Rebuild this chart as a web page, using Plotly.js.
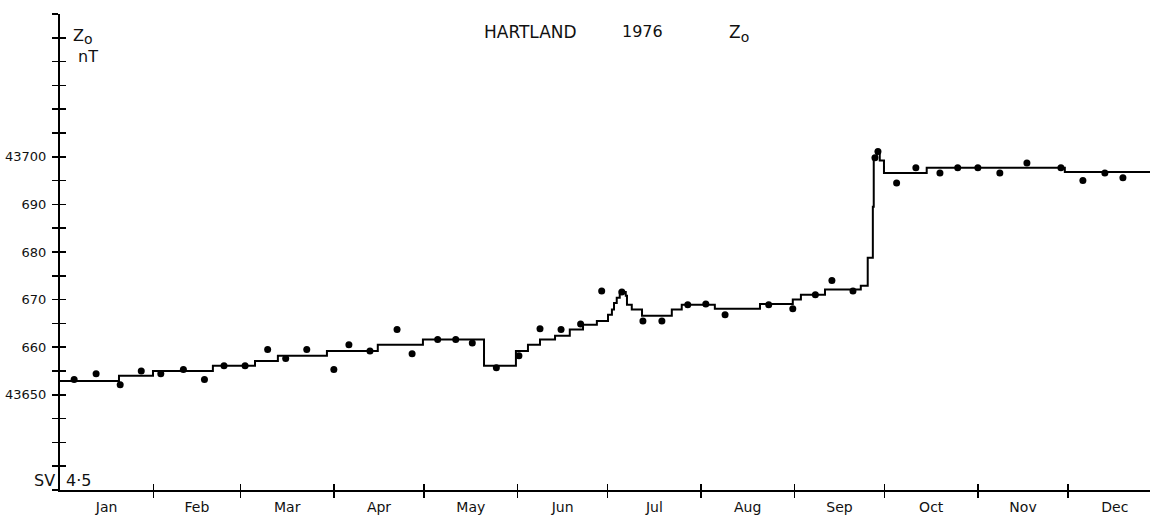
<!DOCTYPE html>
<html>
<head>
<meta charset="utf-8">
<script src="https://cdn.plot.ly/plotly-3.0.1.min.js"></script>
<style>html,body{margin:0;padding:0;background:#fff;}#chart{width:1150px;height:521px;}</style>
</head>
<body>
<div id="chart"></div>
<script>
// Dot series: day of year (1976) and Z value (nT)
var dotDays = [4.7,12,20,27,33.5,41,48,54.5,61.5,69,75,82,91,96,103,112,117,125.5,131.5,137,145,152.5,159.5,166.5,173,180,186.7,193.7,200,208.6,214.6,221,235.5,243.5,251,256.5,263.5,270.8,271.8,278,284.4,292.4,298.3,305,312.3,321.3,332.6,339.9,347.2,353.2];
var dotVals = [43653.2,43654.4,43652.1,43655.0,43654.4,43655.3,43653.2,43656.1,43656.1,43659.5,43657.6,43659.5,43655.3,43660.5,43659.2,43663.7,43658.6,43661.6,43661.6,43660.9,43655.7,43658.2,43663.9,43663.7,43664.9,43671.8,43671.6,43665.5,43665.5,43668.9,43669.1,43666.8,43668.9,43668.1,43671.0,43674.0,43671.8,43699.8,43701.1,43694.5,43697.7,43696.6,43697.7,43697.7,43696.6,43698.7,43697.7,43695.0,43696.6,43695.6];

// Step series: start day of each level and its value
var stepDays = [0,19.6,30.9,50.8,64.8,72.4,88.7,105.6,120.6,140.9,151.5,155.5,159.5,164.5,169.4,173.8,178.4,182.1,183.4,184.1,185.0,186.0,188.0,188.4,190.0,193.4,203.3,206.6,217.6,232.6,243.5,246.2,254.2,266.1,268.4,270.1,270.4,271.4,272.4,273.8,288.0,333.9,362.2];
var stepVals = [43652.9,43654.0,43655.0,43656.1,43657.1,43658.2,43659.2,43660.5,43661.6,43656.1,43659.2,43660.5,43661.6,43662.4,43663.7,43664.7,43665.5,43666.8,43667.9,43669.3,43670.4,43671.6,43670.8,43668.9,43667.9,43666.6,43667.9,43668.9,43668.1,43669.1,43670.0,43671.0,43672.1,43672.9,43678.8,43689.5,43700.0,43701.1,43699.2,43696.6,43697.7,43696.8,43696.8];

// Axis ticks and labels
var monthNames = ['Jan','Feb','Mar','Apr','May','Jun','Jul','Aug','Sep','Oct','Nov','Dec'];
var monthStarts = [0,31,60,91,121,152,182,213,244,274,305,335,366];
var yTickVals = [43630,43635,43640,43645,43650,43655,43660,43665,43670,43675,43680,43685,43690,43695,43700,43705,43710,43715,43720,43725,43730];
var yTickText = ['','','','','43650','','660','','670','','680','','690','','43700','','','','','',''];

var monthBounds = monthStarts.slice(1, 12);
var monthMids = monthNames.map(function(m, i){ return (monthStarts[i] + monthStarts[i+1]) / 2; });

var FONT = 'DejaVu Sans, sans-serif';
var xRange = [0, 362.2];
var yRange = [43630, 43730];

var traces = [
  {x: stepDays, y: stepVals, type: 'scatter', mode: 'lines', line: {shape: 'hv', color: '#000', width: 2}, hoverinfo: 'skip'},
  {x: dotDays, y: dotVals, type: 'scatter', mode: 'markers', marker: {color: '#000', size: 7}, hoverinfo: 'skip'},
  // carriers so the overlay axes (crossing ticks, month labels) are drawn
  {x: [null], y: [null], type: 'scatter', mode: 'lines', xaxis: 'x2', yaxis: 'y2', hoverinfo: 'skip'},
  {x: [null], y: [null], type: 'scatter', mode: 'lines', xaxis: 'x3', yaxis: 'y', hoverinfo: 'skip'}
];

var axBase = {range: xRange, showgrid: false, zeroline: false, fixedrange: true};
var layout = {
  width: 1150, height: 521,
  margin: {l: 60, r: 0, t: 14, b: 31},
  paper_bgcolor: '#fff', plot_bgcolor: 'rgba(0,0,0,0)',
  showlegend: false,
  font: {family: FONT, color: '#111', size: 13},
  title: {text: ''},
  xaxis: Object.assign({}, axBase, {
    tickmode: 'array', tickvals: monthBounds, ticktext: monthBounds.map(function(){return '';}),
    ticks: 'outside', ticklen: 6, tickwidth: 1.5, tickcolor: '#000',
    showline: true, linecolor: '#000', linewidth: 2, showticklabels: false
  }),
  xaxis2: Object.assign({}, axBase, {
    overlaying: 'x', anchor: 'y2',
    tickmode: 'array', tickvals: monthBounds, ticktext: monthBounds.map(function(){return '';}),
    ticks: 'inside', ticklen: 6, tickwidth: 1.5, tickcolor: '#000',
    showline: false, showticklabels: false
  }),
  xaxis3: Object.assign({}, axBase, {
    overlaying: 'x', anchor: 'y',
    tickmode: 'array', tickvals: monthMids, ticktext: monthNames,
    ticks: '', showline: false, showticklabels: true,
    ticklabelstandoff: 7,
    tickfont: {family: FONT, size: 14, color: '#111'}
  }),
  yaxis: {
    range: yRange, showgrid: false, zeroline: false, fixedrange: true,
    tickmode: 'array', tickvals: yTickVals, ticktext: yTickText,
    ticks: 'outside', ticklen: 6, tickwidth: 1.5, tickcolor: '#000',
    showline: true, linecolor: '#000', linewidth: 2,
    ticklabelstandoff: 3,
    tickfont: {family: FONT, size: 13, color: '#111'}
  },
  yaxis2: {
    overlaying: 'y', anchor: 'x2', side: 'left',
    range: yRange, showgrid: false, zeroline: false, fixedrange: true,
    tickmode: 'array', tickvals: yTickVals, ticktext: yTickVals.map(function(){return '';}),
    ticks: 'inside', ticklen: 6, tickwidth: 1.5, tickcolor: '#000',
    showline: false, showticklabels: false
  },
  annotations: [
    {text: 'HARTLAND', xref: 'paper', yref: 'paper', x: (530-60)/1090, y: 1 + (14-32)/476, xanchor: 'center', yanchor: 'middle', showarrow: false, font: {family: FONT, size: 17, color: '#111'}},
    {text: '1976', xref: 'paper', yref: 'paper', x: (642-60)/1090, y: 1 + (14-32)/476, xanchor: 'center', yanchor: 'middle', showarrow: false, font: {family: FONT, size: 16, color: '#111'}},
    {text: 'Z<sub><span style="font-size:14px">o</span></sub>', xref: 'paper', yref: 'paper', x: (739-60)/1090, y: 1 + (14-34)/476, xanchor: 'center', yanchor: 'middle', showarrow: false, font: {family: FONT, size: 17, color: '#111'}},
    {text: 'Z<sub><span style="font-size:14px">o</span></sub><br> nT', xref: 'paper', yref: 'paper', x: (71-60)/1090, y: 1 + (14-24)/476, xanchor: 'left', yanchor: 'top', align: 'left', showarrow: false, font: {family: FONT, size: 16, color: '#111'}},
    {text: 'SV', xref: 'paper', yref: 'paper', x: (57-60)/1090, y: (491-481)/476, xanchor: 'right', yanchor: 'middle', showarrow: false, font: {family: FONT, size: 16, color: '#111'}},
    {text: '4·5', xref: 'paper', yref: 'paper', x: (64-60)/1090, y: (491-481)/476, xanchor: 'left', yanchor: 'middle', showarrow: false, font: {family: FONT, size: 16, color: '#111'}}
  ]
};

Plotly.newPlot('chart', traces, layout, {staticPlot: true, displayModeBar: false});
</script>
</body>
</html>
